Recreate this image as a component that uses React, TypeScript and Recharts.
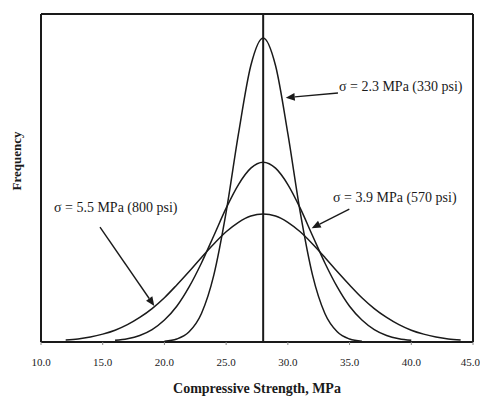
import { LineChart, Line, XAxis, YAxis, ReferenceLine, ReferenceDot, Label } from "recharts"

// compressive strength, MPa (x positions of curve samples)
const strength = [12, 13, 14, 15, 16, 17, 18, 19, 20, 21, 22, 23, 24, 25, 26, 27, 28, 29, 30, 31, 32, 33, 34, 35, 36, 37, 38, 39, 40, 41, 42, 43, 44]

// relative frequency (0-100 = plot height)
const sigma23 = [null, null, null, null, null, null, null, null, 0.2, 0.9, 3.1, 8.7, 20.4, 39.6, 63.5, 84.3, 92.7, 84.3, 63.5, 39.6, 20.4, 8.7, 3.1, 0.9, 0.2, null, null, null, null, null, null, null, null]
const sigma39 = [null, null, null, null, 0.5, 1.0, 2.0, 3.8, 6.7, 10.9, 16.8, 24.1, 32.4, 40.8, 48.0, 53.0, 54.8, 53.0, 48.0, 40.8, 32.4, 24.1, 16.8, 10.9, 6.7, 3.8, 2.0, 1.0, 0.5, null, null, null, null]
const sigma55 = [0.6, 0.9, 1.5, 2.4, 3.6, 5.3, 7.5, 10.2, 13.5, 17.4, 21.5, 25.8, 29.9, 33.6, 36.5, 38.4, 39.0, 38.4, 36.5, 33.6, 29.9, 25.8, 21.5, 17.4, 13.5, 10.2, 7.5, 5.3, 3.6, 2.4, 1.5, 0.9, 0.6]

const xTicks = [10, 15, 20, 25, 30, 35, 40, 45]
const topTicks = [10, 16.9, 23.8, 30.7, 37.6, 44.5]
const mean = 28

const annotations = [
  { text: "σ = 2.3 MPa (330 psi)", x: 34.14, y: 78.0, from: { x: 34.06, y: 75.9 }, to: { x: 29.83, y: 74.5 } },
  { text: "σ = 3.9 MPa (570 psi)", x: 33.66, y: 44.3, from: { x: 34.98, y: 40.5 }, to: { x: 31.93, y: 34.7 } },
  { text: "σ = 5.5 MPa (800 psi)", x: 11.05, y: 41.2, from: { x: 14.78, y: 35.0 }, to: { x: 19.18, y: 11.0 } },
]

const rows = strength.map((x, i) => ({ x, s23: sigma23[i], s39: sigma39[i], s55: sigma55[i] }))

const font = "'Liberation Serif', 'Times New Roman', serif"
const ink = "#1a1a1a"

function Arrow(props: any) {
  const { x1, y1, x2, y2 } = props
  const dx = x2 - x1
  const dy = y2 - y1
  const len = Math.sqrt(dx * dx + dy * dy)
  const ux = dx / len
  const uy = dy / len
  const headLen = 9
  const half = 3.8
  const bx = x2 - ux * headLen
  const by = y2 - uy * headLen
  return (
    <g>
      <line x1={x1} y1={y1} x2={bx} y2={by} stroke={ink} strokeWidth={1.4} />
      <polygon
        points={`${x2},${y2} ${bx - uy * half},${by + ux * half} ${bx + uy * half},${by - ux * half}`}
        fill={ink}
      />
    </g>
  )
}

export default function App() {
  return (
    <div style={{ position: "absolute", left: 0, top: 0, background: "#fff" }}>
      <LineChart width={480} height={396} data={rows} margin={{ top: 13, right: 6, bottom: 0, left: 40 }}>
        <XAxis
          xAxisId="b"
          dataKey="x"
          type="number"
          domain={[10, 45]}
          ticks={xTicks}
          tickFormatter={(v) => v.toFixed(1)}
          height={54}
          tickSize={3}
          tickMargin={13}
          axisLine={{ stroke: ink, strokeWidth: 2 }}
          tickLine={{ stroke: "#888" }}
          tick={{ fill: ink, fontSize: 11, fontFamily: font }}
          allowDataOverflow
        >
          <Label
            content={() => (
              <text x={257} y={393} textAnchor="middle" fontFamily={font} fontWeight="bold" fontSize={14} fill={ink}>
                Compressive Strength, MPa
              </text>
            )}
          />
        </XAxis>
        <XAxis
          xAxisId="t"
          orientation="top"
          dataKey="x"
          type="number"
          domain={[10, 45]}
          ticks={topTicks}
          tick={false}
          height={1}
          tickSize={4}
          axisLine={{ stroke: ink, strokeWidth: 2 }}
          tickLine={{ stroke: "#888" }}
          allowDataOverflow
        />
        <YAxis
          yAxisId="l"
          domain={[0, 100]}
          tick={false}
          tickLine={false}
          width={1}
          axisLine={{ stroke: ink, strokeWidth: 2 }}
        >
          <Label
            content={() => (
              <text
                x={21}
                y={161}
                transform="rotate(-90 21 161)"
                textAnchor="middle"
                fontFamily={font}
                fontWeight="bold"
                fontSize={13}
                fill={ink}
              >
                Frequency
              </text>
            )}
          />
        </YAxis>
        <YAxis
          yAxisId="r"
          orientation="right"
          domain={[0, 100]}
          tick={false}
          tickLine={false}
          width={1}
          axisLine={{ stroke: ink, strokeWidth: 2 }}
        />
        <ReferenceLine xAxisId="b" yAxisId="l" x={mean} stroke={ink} strokeWidth={2} />
        <Line xAxisId="b" yAxisId="l" dataKey="s55" type="monotone" stroke={ink} strokeWidth={1.5} dot={false} isAnimationActive={false} />
        <Line xAxisId="b" yAxisId="l" dataKey="s39" type="monotone" stroke={ink} strokeWidth={1.5} dot={false} isAnimationActive={false} />
        <Line xAxisId="b" yAxisId="l" dataKey="s23" type="monotone" stroke={ink} strokeWidth={1.5} dot={false} isAnimationActive={false} />
        {annotations.map((a) => (
          <ReferenceLine
            key={"arrow-" + a.text}
            xAxisId="b"
            yAxisId="l"
            segment={[a.from, a.to]}
            shape={Arrow}
          />
        ))}
        {annotations.map((a) => (
          <ReferenceDot
            key={"text-" + a.text}
            xAxisId="b"
            yAxisId="l"
            x={a.x}
            y={a.y}
            r={1}
            shape={(p: any) => (
              <text x={p.cx} y={p.cy} dy="0.35em" fontFamily={font} fontSize={14} fill={ink}>
                {a.text}
              </text>
            )}
          />
        ))}
      </LineChart>
    </div>
  )
}
